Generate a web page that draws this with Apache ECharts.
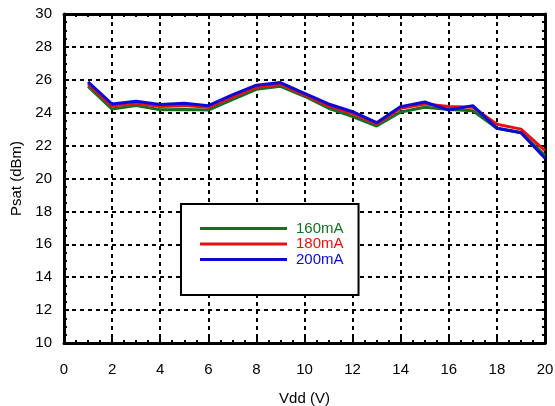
<!DOCTYPE html>
<html><head><meta charset="utf-8">
<script src="https://cdn.jsdelivr.net/npm/echarts@6/dist/echarts.min.js"></script>
<style>html,body{margin:0;padding:0;background:#fff}#c{width:555px;height:406px}</style>
</head><body><div id="c"></div>
<script>
var vdd = [1,2,3,4,5,6,7,8,9,10,11,12,13,14,15,16,17,18,19,20];
var s160 = [25.6,24.22,24.43,24.18,24.2,24.16,24.8,25.42,25.6,25.0,24.27,23.76,23.19,24.04,24.33,24.2,24.12,23.05,22.8,21.4];
var s180 = [25.75,24.4,24.57,24.38,24.43,24.33,24.95,25.55,25.72,25.08,24.42,23.95,23.32,24.27,24.53,24.38,24.33,23.3,23.0,21.7];
var s200 = [25.88,24.53,24.69,24.5,24.57,24.43,25.08,25.67,25.83,25.18,24.53,24.06,23.39,24.37,24.65,24.16,24.43,23.05,22.78,21.23];
var names = ['160mA','180mA','200mA'];
var colors = ['#176f25','#e81010','#0a0ad8'];
var font = 'Liberation Sans, Arial, Helvetica, sans-serif';

function pairs(ys){ return vdd.map(function(x,i){return [x, ys[i]];}); }
var splitLine = {show:true, lineStyle:{color:'#000', width:2, type:[4,4]}};
function ax(extra){
  return Object.assign({
    type:'value', interval:2,
    axisLine:{show:true, onZero:false, lineStyle:{color:'#000', width:3}},
    axisTick:{show:true, inside:true, length:5, lineStyle:{color:'#000', width:2}},
    minorTick:{show:true, splitNumber:4, length:3, lineStyle:{color:'#000', width:2}},
    axisLabel:{color:'#000', fontSize:15, fontFamily:font, margin:10},
    splitLine:{show:false}
  }, extra);
}
var chart = echarts.init(document.getElementById('c'), null, {renderer:'canvas'});
chart.setOption({
  animation:false,
  backgroundColor:'#fff',
  grid:{left:64, right:10, top:14, bottom:63, containLabel:false, outerBoundsMode:'none'},
  xAxis:[
    ax({min:0, max:20, position:'bottom', splitLine:splitLine,
        axisLabel:{color:'#000', fontSize:15, fontFamily:font, margin:19},
        name:'Vdd (V)', nameLocation:'middle', nameGap:48,
        nameTextStyle:{color:'#000', fontSize:15, fontFamily:font}}),
    ax({min:0, max:20, position:'top', axisLabel:{show:false}})
  ],
  yAxis:[
    ax({min:10, max:30, position:'left', splitLine:splitLine,
        axisLabel:{color:'#000', fontSize:15, fontFamily:font, margin:12},
        name:'Psat (dBm)', nameLocation:'middle', nameGap:39,
        nameTextStyle:{color:'#000', fontSize:15, fontFamily:font}}),
    ax({min:10, max:30, position:'right', axisLabel:{show:false}})
  ],
  legend:{
    show:true, orient:'vertical', left:181, top:204,
    padding:[17,15,28,19], itemGap:0.5,
    backgroundColor:'#fff', borderColor:'#000', borderWidth:2,
    icon:'rect', itemWidth:87, itemHeight:3,
    data:names.map(function(n,i){return {name:n, textStyle:{color:colors[i]}};}),
    textStyle:{fontSize:15, fontFamily:font, lineHeight:14, padding:[0,0,0,4]}
  },
  series:[s160,s180,s200].map(function(d,i){
    return {name:names[i], type:'line', data:pairs(d), symbol:'none',
      lineStyle:{color:colors[i], width:3}, itemStyle:{color:colors[i]}, z:2+i};
  })
});
</script></body></html>
